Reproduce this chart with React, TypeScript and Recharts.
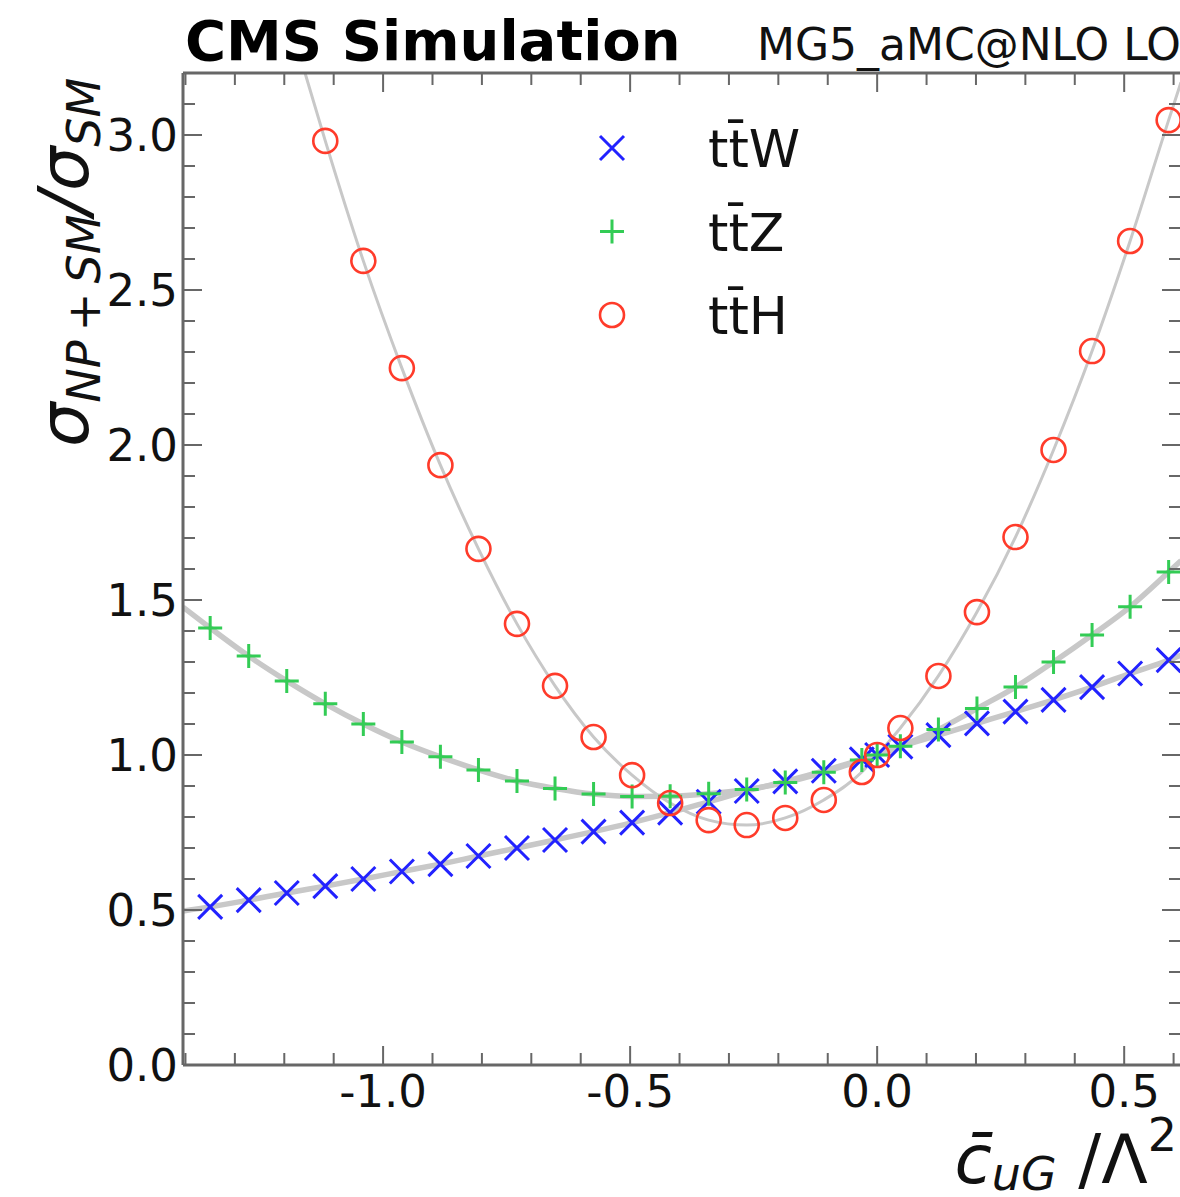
import { ComposedChart, XAxis, YAxis, Line, Scatter, Legend } from 'recharts';

// Wilson coefficient values of the scan points
const cuG = [
  -1.35, -1.272, -1.195, -1.117, -1.04, -0.962, -0.884, -0.807, -0.729, -0.652,
  -0.574, -0.496, -0.419, -0.341, -0.264, -0.186, -0.108, -0.031, 0.047, 0.124,
  0.202, 0.28, 0.357, 0.435, 0.512, 0.59,
];
const ttW = [
  0.51, 0.532, 0.555, 0.577, 0.6, 0.624, 0.648, 0.674, 0.7, 0.726,
  0.753, 0.782, 0.814, 0.849, 0.884, 0.915, 0.949, 0.986, 1.027, 1.064,
  1.102, 1.14, 1.178, 1.219, 1.263, 1.306,
];
const ttZ = [
  1.41, 1.319, 1.239, 1.165, 1.1, 1.042, 0.994, 0.952, 0.916, 0.892,
  0.874, 0.866, 0.867, 0.875, 0.889, 0.911, 0.944, 0.984, 1.028, 1.082,
  1.15, 1.219, 1.3, 1.387, 1.478, 1.59,
];
const ttH = [
  null, null, null, 2.981, 2.594, 2.248, 1.935, 1.665, 1.423, 1.223,
  1.058, 0.935, 0.845, 0.79, 0.774, 0.797, 0.855, 0.945, 1.087, 1.255,
  1.461, 1.703, 1.984, 2.303, 2.658, 3.048,
];
// SM point, shared by all three processes
const smPoint = { x: 0, y: 1 };

// where the grey fit curves leave the frame
const fitEndsW = [{ x: -1.405, y: 0.497 }, { x: 0.615, y: 1.322 }];
const fitEndsZ = [{ x: -1.405, y: 1.477 }, { x: 0.615, y: 1.627 }];
const fitEndsH = [{ x: -1.158, y: 3.2 }, { x: 0.615, y: 3.17 }];

const seriesNames = ['tt\u0304W', 'tt\u0304Z', 'tt\u0304H'];

const xTicks = [
  -1.4, -1.3, -1.2, -1.1, -1.0, -0.9, -0.8, -0.7, -0.6, -0.5, -0.4, -0.3, -0.2,
  -0.1, 0, 0.1, 0.2, 0.3, 0.4, 0.5, 0.6,
];
const yTicks = [
  0, 0.1, 0.2, 0.3, 0.4, 0.5, 0.6, 0.7, 0.8, 0.9, 1.0, 1.1, 1.2, 1.3, 1.4, 1.5,
  1.6, 1.7, 1.8, 1.9, 2.0, 2.1, 2.2, 2.3, 2.4, 2.5, 2.6, 2.7, 2.8, 2.9, 3.0, 3.1, 3.2,
];

const FONT = '"DejaVu Sans", sans-serif';
const AX = '#676767';
const BLUE = '#2222ff';
const GREEN = '#33cc55';
const RED = '#ff3b2a';
const FIT = '#c8c8c8';

const toPoints = (vals: (number | null)[]) => {
  const pts = cuG
    .map((x, i) => ({ x, y: vals[i] }))
    .filter((p) => p.y != null) as { x: number; y: number }[];
  return [...pts, smPoint].sort((a, b) => a.x - b.x);
};

const wPts = toPoints(ttW);
const zPts = toPoints(ttZ);
const hPts = toPoints(ttH);
const wFit = [fitEndsW[0], ...wPts, fitEndsW[1]];
const zFit = [fitEndsZ[0], ...zPts, fitEndsZ[1]];
const hFit = [fitEndsH[0], ...hPts, fitEndsH[1]];

const isMajor = (v: number) => Math.abs(v * 2 - Math.round(v * 2)) < 1e-6;
const tickLen = (v: number) => (isMajor(v) ? 19 : 12);

const XMark = ({ cx, cy }: any) => (
  <path d={`M${cx - 12},${cy - 12}L${cx + 12},${cy + 12}M${cx - 12},${cy + 12}L${cx + 12},${cy - 12}`}
    stroke={BLUE} strokeWidth={3} fill="none" />
);
const PlusMark = ({ cx, cy }: any) => (
  <path d={`M${cx - 12},${cy}L${cx + 12},${cy}M${cx},${cy - 12}L${cx},${cy + 12}`}
    stroke={GREEN} strokeWidth={3} fill="none" />
);
const CircleMark = ({ cx, cy }: any) => (
  <circle cx={cx} cy={cy} r={12} stroke={RED} strokeWidth={2.6} fill="none" />
);

const BottomTick = ({ x, y, payload }: any) => (
  <g>
    <line x1={x} x2={x} y1={y} y2={y - tickLen(payload.value)} stroke={AX} strokeWidth={2} />
    {isMajor(payload.value) && (
      <text x={x} y={y + 42} textAnchor="middle" fontSize={45} fontFamily={FONT} fill="#111">
        {payload.value.toFixed(1)}
      </text>
    )}
  </g>
);
const TopTick = ({ x, y, payload }: any) => (
  <line x1={x} x2={x} y1={y} y2={y + tickLen(payload.value)} stroke={AX} strokeWidth={2} />
);
const LeftTick = ({ x, y, payload }: any) => (
  <g>
    <line x1={x} x2={x + tickLen(payload.value)} y1={y} y2={y} stroke={AX} strokeWidth={2} />
    {isMajor(payload.value) && (
      <text x={x - 5} y={y + 16} textAnchor="end" fontSize={45} fontFamily={FONT} fill="#111">
        {payload.value.toFixed(1)}
      </text>
    )}
  </g>
);
const RightTick = ({ x, y, payload }: any) => (
  <line x1={x} x2={x - tickLen(payload.value)} y1={y} y2={y} stroke={AX} strokeWidth={2} />
);

const legendMarks = [XMark, PlusMark, CircleMark];
const LegendBox = () => (
  <svg width={260} height={240}>
    {seriesNames.map((name, i) => {
      const Mark = legendMarks[i];
      const cy = 38 + i * 83.5;
      return (
        <g key={name}>
          <Mark cx={32} cy={cy} />
          <text x={128} y={cy + 19} fontSize={52} fontFamily={FONT} fill="#111">{name}</text>
        </g>
      );
    })}
  </svg>
);

export default function App() {
  return (
    <div style={{ position: 'relative', width: 1180, height: 1197, overflow: 'hidden', background: '#fff' }}>
      <style>{'body{margin:0}'}</style>
      <ComposedChart width={1201} height={1197} margin={{ top: 0, right: 0, bottom: 0, left: 0 }}>
        <XAxis xAxisId="b" orientation="bottom" type="number" dataKey="x" domain={[-1.405, 0.615]}
          ticks={xTicks} interval={0} height={132} tickSize={0} tickMargin={0} tick={BottomTick}
          axisLine={{ stroke: AX, strokeWidth: 3 }} allowDataOverflow />
        <XAxis xAxisId="t" orientation="top" type="number" dataKey="x" domain={[-1.405, 0.615]}
          ticks={xTicks} interval={0} height={73} tickSize={0} tickMargin={0} tick={TopTick}
          axisLine={{ stroke: AX, strokeWidth: 3 }} allowDataOverflow />
        <YAxis yAxisId="l" orientation="left" type="number" dataKey="y" domain={[0, 3.2]}
          ticks={yTicks} interval={0} width={183} tickSize={0} tickMargin={0} tick={LeftTick}
          axisLine={{ stroke: AX, strokeWidth: 3 }} allowDataOverflow />
        <YAxis yAxisId="r" orientation="right" type="number" dataKey="y" domain={[0, 3.2]}
          ticks={yTicks} interval={0} width={20} tickSize={0} tickMargin={0} tick={RightTick}
          axisLine={false} allowDataOverflow />

        <Line xAxisId="b" yAxisId="l" data={wFit} dataKey="y" type="monotone" stroke={FIT}
          strokeWidth={5.5} dot={false} isAnimationActive={false} legendType="none" />
        <Line xAxisId="b" yAxisId="l" data={zFit} dataKey="y" type="monotone" stroke={FIT}
          strokeWidth={5.5} dot={false} isAnimationActive={false} legendType="none" />
        <Line xAxisId="b" yAxisId="l" data={hFit} dataKey="y" type="monotone" stroke={FIT}
          strokeWidth={3} dot={false} isAnimationActive={false} legendType="none" />

        <Scatter xAxisId="b" yAxisId="l" name={seriesNames[0]} data={wPts} dataKey="y"
          shape={XMark} isAnimationActive={false} />
        <Scatter xAxisId="b" yAxisId="l" name={seriesNames[1]} data={zPts} dataKey="y"
          shape={PlusMark} isAnimationActive={false} />
        <Scatter xAxisId="b" yAxisId="l" name={seriesNames[2]} data={hPts} dataKey="y"
          shape={CircleMark} isAnimationActive={false} />

        <Legend layout="horizontal" verticalAlign="middle" align="center" content={<LegendBox />}
          wrapperStyle={{ left: 580, top: 110, width: 260, height: 240 }} />
      </ComposedChart>

      <svg width={1180} height={1197} style={{ position: 'absolute', left: 0, top: 0, pointerEvents: 'none' }}>
        <text x={185} y={60} fontSize={56} fontWeight="bold" fontFamily={FONT} fill="#000">CMS Simulation</text>
        <text x={757} y={60} fontSize={44} fontFamily={FONT} fill="#111">MG5_aMC@NLO LO</text>
        <text transform="translate(88,447) rotate(-90)" fontSize={70} fontStyle="italic" fontFamily={FONT} fill="#111">
          <tspan>σ</tspan>
          <tspan fontSize={46} dy={12}>{'NP\u2009+\u2009SM'}</tspan>
          <tspan dy={-12}>/σ</tspan>
          <tspan fontSize={46} dy={12}>SM</tspan>
        </text>
        <text x={1177} y={1183} textAnchor="end" fontSize={68} fontFamily={FONT} fill="#111">
          <tspan fontStyle="italic">c{'\u0304'}</tspan>
          <tspan fontStyle="italic" fontSize={46} dy={7}>uG</tspan>
          <tspan dy={-7}>{'\u00a0/Λ'}</tspan>
          <tspan fontSize={46} dy={-32}>2</tspan>
        </text>
      </svg>
    </div>
  );
}
